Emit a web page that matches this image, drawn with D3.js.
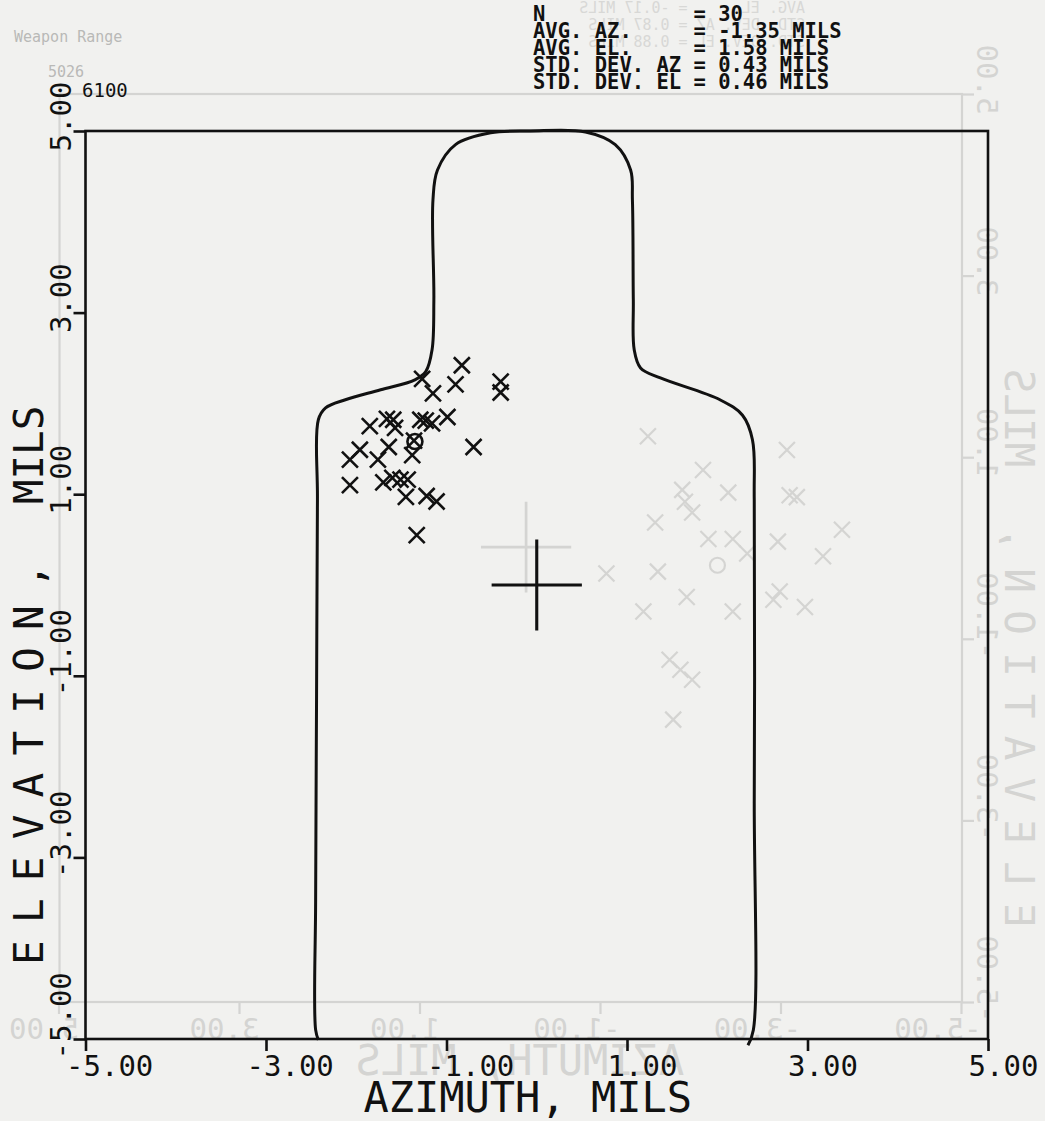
<!DOCTYPE html>
<html>
<head>
<meta charset="utf-8">
<script src="https://cdn.jsdelivr.net/npm/d3@7"></script>
<style>
  html, body { margin: 0; padding: 0; background: #f1f1ef; }
  svg { display: block; }
  text { font-family: "DejaVu Sans Mono", monospace; }
</style>
</head>
<body>
<svg id="chart" width="1045" height="1121"></svg>
<script>
// shot group (mils)
const hitAz = [-0.83, -1.27, -0.90, -0.40, -0.40, -1.15, -0.99, -1.66, -1.85, -1.57,
  -1.29, -1.23, -1.16, -1.36, -1.38, -1.96, -2.07, -1.64, -1.76, -0.70,
  -2.07, -1.70, -1.60, -1.51, -1.43, -1.45, -1.22, -1.11, -1.33, -1.59]
const hitEl = [2.42, 2.27, 2.21, 2.24, 2.12, 2.11, 1.85, 1.83, 1.75, 1.73,
  1.82, 1.81, 1.78, 1.59, 1.43, 1.49, 1.38, 1.52, 1.38, 1.52,
  1.10, 1.13, 1.18, 1.16, 1.16, 0.97, 0.98, 0.92, 0.55, 1.82]
const meanPoint = [-1.35, 1.58]
const aimPoint = [0, 0]
const aimArm = 0.5

// target silhouette outline
const outlineAz = [-2.42, -2.45, -2.45, -2.44, -2.43, -2.42, -2.34, -2.12, -1.73, -1.35,
  -1.23, -1.16, -1.14, -1.15, -1.10, -0.90, -0.51, -0.07, 0.54, 0.87,
  1.04, 1.06, 1.07, 1.08, 1.15, 1.37, 2.03, 2.28, 2.39, 2.41,
  2.41, 2.40, 2.34]
const outlineEl = [-5.01, -4.90, -3.47, -1.27, 0.94, 1.82, 1.95, 2.04, 2.15, 2.26,
  2.35, 2.59, 3.14, 4.24, 4.57, 4.85, 4.98, 5.00, 4.99, 4.85,
  4.57, 4.24, 3.14, 2.59, 2.39, 2.28, 2.04, 1.87, 1.60, 0.94,
  -2.37, -4.90, -5.07]

const xTicks = [-5, -3, -1, 1, 3, 5]
const xTickLabels = ['-5.00', '-3.00', '-1.00', '1.00', '3.00', '5.00']
const yTicks = [-5, -3, -1, 1, 3, 5]
const yTickLabels = ['-5.00', '-3.00', '-1.00', '1.00', '3.00', '5.00']
const xTitle = 'AZIMUTH, MILS'
const yTitle = ['ELEVATION, ', 'MILS']

const statLines = [
  'N            = 30',
  'AVG. AZ.     = -1.35 MILS',
  'AVG. EL.     = 1.58 MILS',
  'STD. DEV. AZ = 0.43 MILS',
  'STD. DEV. EL = 0.46 MILS'
]
const sheetId = '6100'

// faint show-through of the sheet behind (mirrored)
const ghostAz = [-1.52, -3.06, -2.13, -1.90, -2.41, -3.09, -3.17, -1.93, -2.01, -3.67,
  -1.60, -2.19, -2.46, -2.62, -2.96, -3.46, -1.06, -1.63, -2.98, -2.91,
  -1.95, -1.47, -2.46, -3.26, -1.76, -1.88, -2.01, -1.80]
const ghostEl = [1.23, 1.08, 0.86, 0.64, 0.61, 0.58, 0.56, 0.51, 0.39, 0.20,
  0.28, 0.10, 0.10, -0.06, 0.07, -0.09, -0.28, -0.26, -0.48, -0.57,
  -0.54, -0.70, -0.70, -0.65, -1.23, -1.34, -1.45, -1.89]
const ghostMean = [-2.29, -0.19]
const ghostAim = [-0.17, 0.01]
const ghostStats = ['AVG. EL.     = -0.17 MILS', 'STD. DEV. AZ = 0.87 MILS', 'STD. DEV. EL = 0.88 MILS']
const ghostNotes = ['Weapon Range', '5026']

const svg = d3.select('#chart')
const x = d3.scaleLinear().domain([-5, 5]).range([85.5, 988])
const y = d3.scaleLinear().domain([-5, 5]).range([1039, 131])

function crossPath (cx, cy, r) {
  return `M${cx - r},${cy - r}L${cx + r},${cy + r}M${cx - r},${cy + r}L${cx + r},${cy - r}`
}

// draws frame, ticks, titles and marks of one sheet
function drawSheet (g, ink, hitsAz, hitsEl, mean, aim, weight) {
  const xAxis = g.append('g')
    .attr('transform', `translate(0,${y(-5)})`)
    .call(d3.axisBottom(x).tickValues(xTicks).tickSize(12)
      .tickFormat((d, i) => xTickLabels[i]))
  const yAxis = g.append('g')
    .attr('transform', `translate(${x(-5)},0)`)
    .call(d3.axisLeft(y).tickValues(yTicks).tickSize(12)
      .tickFormat((d, i) => yTickLabels[i]))

  ;[xAxis, yAxis].forEach(a => {
    a.select('.domain').remove()
    a.selectAll('line').attr('stroke', ink).attr('stroke-width', weight)
    a.selectAll('text')
      .attr('fill', ink)
      .attr('font-family', '"DejaVu Sans Mono", monospace')
      .attr('font-size', 29)
      .attr('text-anchor', 'start')
      .attr('dy', null)
  })
  xAxis.selectAll('text').attr('x', -20).attr('y', 37)
  yAxis.selectAll('text').attr('x', null).attr('y', null)
    .attr('transform', 'translate(-15,20) rotate(-90)')

  // frame
  g.append('rect')
    .attr('x', x(-5)).attr('y', y(5))
    .attr('width', x(5) - x(-5)).attr('height', y(-5) - y(5))
    .attr('fill', 'none').attr('stroke', ink).attr('stroke-width', weight)

  g.append('text')
    .attr('x', (x(-5) + x(5)) / 2 - 9).attr('y', 1112)
    .attr('text-anchor', 'middle')
    .attr('font-size', 42).attr('fill', ink)
    .text(xTitle)

  // elevation title: the plotter spread the first word wider
  const yt = g.append('text')
    .attr('transform', 'translate(43,965) rotate(-90)')
    .attr('text-anchor', 'start')
    .attr('font-size', 41).attr('fill', ink)
    .style('white-space', 'pre')
  yt.append('tspan').attr('letter-spacing', 17.2).text(yTitle[0])
  yt.append('tspan').attr('letter-spacing', 0).text(yTitle[1])

  // hits
  g.append('g').selectAll('path')
    .data(d3.range(hitsAz.length))
    .join('path')
    .attr('d', i => crossPath(x(hitsAz[i]), y(hitsEl[i]), 8))
    .attr('stroke', ink).attr('stroke-width', weight).attr('fill', 'none')

  // mean of impact
  g.append('circle')
    .attr('cx', x(mean[0])).attr('cy', y(mean[1])).attr('r', 7.5)
    .attr('fill', 'none').attr('stroke', ink).attr('stroke-width', weight)

  // aiming point
  g.append('path')
    .attr('d', `M${x(aim[0] - aimArm)},${y(aim[1])}H${x(aim[0] + aimArm)}` +
      `M${x(aim[0])},${y(aim[1] + aimArm)}V${y(aim[1] - aimArm)}`)
    .attr('stroke', ink).attr('stroke-width', weight + 0.5).attr('fill', 'none')
}

// sheet behind, seen through the paper
const ghost = svg.append('g').attr('transform', 'translate(1047.5,-37) scale(-1,1)')
drawSheet(ghost, '#d4d4d2', ghostAz, ghostEl, ghostMean, ghostAim, 2.2)

const ghostTop = svg.append('g').attr('transform', 'translate(805,0) scale(-1,1)')
ghostTop.selectAll('text')
  .data(ghostStats)
  .join('text')
  .attr('x', 0).attr('y', (d, i) => 13 + i * 17)
  .attr('font-size', 15).attr('fill', '#d8d8d6')
  .style('white-space', 'pre')
  .text(d => d)

svg.append('g').selectAll('text')
  .data(ghostNotes)
  .join('text')
  .attr('x', (d, i) => i === 0 ? 14 : 48)
  .attr('y', (d, i) => i === 0 ? 42 : 77)
  .attr('font-family', '"Liberation Serif", serif')
  .attr('font-size', 15).attr('fill', '#b9b9b7')
  .text(d => d)

// the sheet itself
const sheet = svg.append('g')
drawSheet(sheet, '#111', hitAz, hitEl, meanPoint, aimPoint, 2.6)

// target silhouette
const outline = d3.line()
  .x(i => x(outlineAz[i]))
  .y(i => y(outlineEl[i]))
  .curve(d3.curveCatmullRom.alpha(0.5))

sheet.append('path')
  .attr('d', outline(d3.range(outlineAz.length)))
  .attr('fill', 'none').attr('stroke', '#111').attr('stroke-width', 3)

// header
sheet.append('text')
  .attr('x', 82).attr('y', 97)
  .attr('font-size', 19).attr('fill', '#111')
  .text(sheetId)

sheet.append('g').selectAll('text')
  .data(statLines)
  .join('text')
  .attr('x', 533).attr('y', (d, i) => 21 + i * 17)
  .attr('font-size', 20.5).attr('font-weight', 'bold').attr('fill', '#111')
  .style('white-space', 'pre')
  .text(d => d)
</script>
</body>
</html>
